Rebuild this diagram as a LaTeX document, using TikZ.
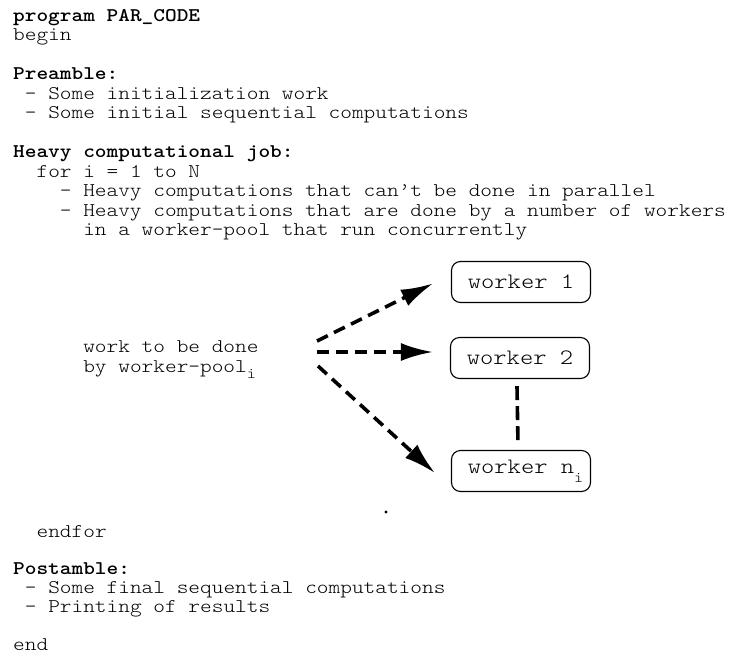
\documentclass[tikz,border=0pt]{standalone}
\usepackage{fontspec}
\usetikzlibrary{arrows.meta}
% Latin Modern Mono Light, widened to a Courier-like pitch
\newfontfamily\codefont{lmmonolt10-regular.otf}[BoldFont=lmmonolt10-bold.otf, FakeStretch=1.15]
\tikzset{
  code/.style={anchor=base west, inner sep=0pt, font=\codefont\fontsize{19.35}{19.5}\selectfont},
  head/.style={code, font=\codefont\fontsize{19.35}{19.5}\selectfont\bfseries},
  worker/.style={draw, line width=1.1pt, rounded corners=9pt, minimum width=139pt,
    minimum height=41pt, inner sep=0pt, font=\codefont\fontsize{22}{22}\selectfont},
  job/.style={line width=3.6pt, dash pattern=on 12pt off 7pt, -{Latex[length=32pt,width=18pt]}},
  chain/.style={line width=3.6pt, dash pattern=on 14pt off 6pt},
}
\newcommand{\lowsub}[2]{\raisebox{#1}{\fontsize{15}{15}\selectfont #2}}
\begin{document}
\begin{tikzpicture}[x=1pt,y=-1pt]
\useasboundingbox (0,0) rectangle (729,654);

% program text, one line per node (column pitch 11.68)
\node[head] (l1)  at (13,21)    {program PAR\_CODE};
\node[code] (l2)  at (13,40.5)  {begin};
\node[head] (l3)  at (13,79.5)  {Preamble:};
\node[code] (l4)  at (24.7,99)  {- Some initialization work};
\node[code] (l5)  at (24.7,118.5) {- Some initial sequential computations};
\node[head] (l6)  at (13,157.5) {Heavy computational job:};
\node[code] (l7)  at (36.4,177) {for i = 1 to N};
\node[code] (l8)  at (59.7,196.5) {- Heavy computations that can’t be done in parallel};
\node[code] (l9)  at (59.7,216) {- Heavy computations that are done by a number of workers};
\node[code] (l10) at (83.1,235.5) {in a worker-pool that run concurrently};

\node[code] (w0a) at (83.1,352.5) {work to be done};
\node[code] (w0b) at (83.1,372) {by worker-pool\rlap{\lowsub{-6pt}{i}}};

\node[code] (l11) at (36.4,537) {endfor};
\node[head] (l12) at (13,574.7) {Postamble:};
\node[code] (l13) at (24.7,593.5) {- Some final sequential computations};
\node[code] (l14) at (24.7,612.3) {- Printing of results};
\node[code] (l15) at (13,650) {end};

% worker pool
\node[worker] (w1) at (521,282) {worker 1};
\node[worker] (w2) at (520,358) {worker 2};
\node[worker] (w3) at (521,471) {worker n\rlap{\lowsub{-9pt}{i}}};

\coordinate (s1) at (317,341);
\coordinate (s2) at (317,352);
\coordinate (s3) at (318,366);

\draw[job] (s1) -- ([xshift=-18pt,yshift=-1.5pt]w1.west);
\draw[job] (s2) -- ([xshift=-17pt,yshift=6pt]w2.west);
\draw[job] (s3) -- ([xshift=-16pt,yshift=-2pt]w3.west);
\draw[chain] ([xshift=-3pt,yshift=-7pt]w2.south) -- ([xshift=-3pt,yshift=5pt]w3.north);

\fill (386,512) circle (1.6pt);
\end{tikzpicture}
\end{document}
